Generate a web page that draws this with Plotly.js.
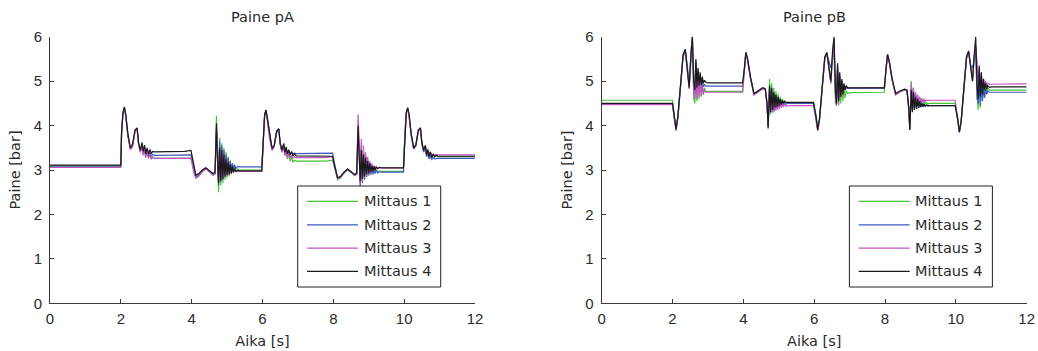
<!DOCTYPE html>
<html>
<head>
<meta charset="utf-8">
<script src="https://cdn.plot.ly/plotly-3.0.1.min.js"></script>
<style>html,body{margin:0;padding:0;background:#fff;}#chart{width:1038px;height:351px;}</style>
</head>
<body>
<div id="chart"></div>
<script>
// ---------- DATA ----------
const seriesNames = ['Mittaus 1', 'Mittaus 2', 'Mittaus 3', 'Mittaus 4'];
const chartTitles = ['Paine pA', 'Paine pB'];
const xTitle = 'Aika [s]';
const yTitle = 'Paine [bar]';
const xTicks = [0, 2, 4, 6, 8, 10, 12];
const yTicks = [0, 1, 2, 3, 4, 5, 6];

// time [s], pressure pA
const tA = [
  0, 2.0,
  2.02, 2.06, 2.1, 2.14, 2.2, 2.27, 2.33, 2.4, 2.46, 2.5, 2.55, 2.6, 2.63, 2.67, 2.7, 2.74, 2.78, 2.82, 2.86, 2.9, 2.95,
  3.8, 3.98,
  4.02, 4.07, 4.12, 4.2, 4.3, 4.4, 4.5, 4.6, 4.66,
  4.7, 4.73, 4.76, 4.79, 4.82, 4.85, 4.88, 4.91, 4.94, 4.97, 5.0, 5.03, 5.06, 5.09, 5.12, 5.15, 5.18, 5.21, 5.25, 5.3, 5.35,
  5.98,
  6.02, 6.06, 6.1, 6.14, 6.2, 6.27, 6.33, 6.4, 6.46, 6.5, 6.55, 6.6, 6.63, 6.67, 6.7, 6.74, 6.78, 6.82, 6.86, 6.9, 6.95,
  7.8, 7.98,
  8.02, 8.07, 8.12, 8.2, 8.3, 8.4, 8.5, 8.6, 8.66,
  8.7, 8.73, 8.76, 8.79, 8.82, 8.85, 8.88, 8.91, 8.94, 8.97, 9.0, 9.03, 9.06, 9.09, 9.12, 9.15, 9.18, 9.21, 9.25, 9.3, 9.35,
  9.98,
  10.02, 10.06, 10.1, 10.14, 10.2, 10.27, 10.33, 10.4, 10.46, 10.5, 10.55, 10.6, 10.63, 10.67, 10.7, 10.74, 10.78, 10.82, 10.86, 10.9, 10.95,
  12
];
const pA_m1 = [
  3.08, 3.08,
  3.8, 4.28, 4.4, 4.22, 3.78, 3.48, 3.55, 3.88, 3.93, 3.6, 3.42, 3.58, 3.38, 3.5, 3.3, 3.45, 3.28, 3.38, 3.25, 3.3, 3.26,
  3.27, 3.27,
  3.15, 2.95, 2.85, 2.9, 2.98, 3.03, 2.97, 2.9, 2.93,
  4.22, 3.3, 2.5, 3.72, 2.65, 3.6, 2.7, 3.5, 2.78, 3.4, 2.82, 3.3, 2.86, 3.22, 2.9, 3.15, 2.93, 3.08, 2.97, 3.02, 3.0,
  3.0,
  3.78, 4.22, 4.33, 4.12, 3.72, 3.45, 3.53, 3.85, 3.92, 3.58, 3.42, 3.55, 3.33, 3.45, 3.25, 3.35, 3.2, 3.3, 3.18, 3.22, 3.2,
  3.2, 3.22,
  3.1, 2.9, 2.78, 2.82, 2.93, 3.0, 2.95, 2.88, 2.9,
  3.7, 3.4, 2.7, 3.55, 2.75, 3.45, 2.8, 3.35, 2.85, 3.25, 2.88, 3.15, 2.9, 3.08, 2.92, 3.02, 2.94, 3.0, 2.96, 2.98, 2.97,
  2.97,
  3.8, 4.28, 4.38, 4.22, 3.78, 3.48, 3.55, 3.88, 3.93, 3.6, 3.42, 3.55, 3.35, 3.48, 3.3, 3.42, 3.28, 3.35, 3.3, 3.32, 3.3,
  3.3
];
const pA_m2 = [
  3.09, 3.09,
  3.82, 4.28, 4.4, 4.23, 3.78, 3.48, 3.55, 3.88, 3.94, 3.6, 3.4, 3.58, 3.36, 3.52, 3.32, 3.45, 3.3, 3.4, 3.31, 3.35, 3.33,
  3.33, 3.34,
  3.2, 2.98, 2.82, 2.88, 2.98, 3.04, 2.98, 2.9, 2.92,
  3.9, 3.45, 2.65, 3.65, 2.75, 3.55, 2.78, 3.45, 2.85, 3.35, 2.9, 3.28, 2.95, 3.2, 2.98, 3.15, 3.0, 3.12, 3.03, 3.08, 3.07,
  3.07,
  3.8, 4.25, 4.35, 4.13, 3.74, 3.47, 3.55, 3.87, 3.92, 3.6, 3.43, 3.58, 3.37, 3.5, 3.36, 3.43, 3.36, 3.4, 3.37, 3.38, 3.37,
  3.38, 3.38,
  3.2, 2.98, 2.82, 2.84, 2.94, 3.01, 2.96, 2.89, 2.9,
  3.8, 3.5, 2.55, 3.5, 2.7, 3.4, 2.78, 3.3, 2.85, 3.22, 2.88, 3.15, 2.9, 3.08, 2.9, 3.04, 2.92, 3.0, 2.93, 2.96, 2.95,
  2.95,
  3.82, 4.28, 4.38, 4.2, 3.78, 3.47, 3.55, 3.88, 3.92, 3.58, 3.4, 3.5, 3.3, 3.38, 3.25, 3.32, 3.24, 3.28, 3.25, 3.26, 3.26,
  3.26
];
const pA_m3 = [
  3.06, 3.06,
  3.78, 4.25, 4.38, 4.2, 3.75, 3.46, 3.52, 3.85, 3.92, 3.58, 3.4, 3.55, 3.33, 3.48, 3.28, 3.42, 3.26, 3.35, 3.25, 3.28, 3.26,
  3.26, 3.26,
  3.1, 2.92, 2.82, 2.86, 2.96, 3.02, 2.96, 2.88, 2.9,
  3.95, 3.3, 2.75, 3.5, 2.78, 3.42, 2.82, 3.35, 2.86, 3.25, 2.88, 3.18, 2.9, 3.1, 2.92, 3.05, 2.94, 3.02, 2.96, 2.98, 2.97,
  2.97,
  3.75, 4.2, 4.32, 4.1, 3.7, 3.44, 3.52, 3.84, 3.9, 3.56, 3.4, 3.56, 3.32, 3.47, 3.28, 3.38, 3.27, 3.33, 3.27, 3.3, 3.28,
  3.28, 3.3,
  3.12, 2.93, 2.8, 2.84, 2.94, 3.02, 2.96, 2.88, 2.92,
  4.25, 3.6, 2.7, 3.7, 2.75, 3.55, 2.82, 3.4, 2.86, 3.3, 2.9, 3.2, 2.95, 3.15, 2.98, 3.1, 3.0, 3.08, 3.03, 3.06, 3.05,
  3.05,
  3.8, 4.28, 4.4, 4.22, 3.78, 3.48, 3.56, 3.9, 3.95, 3.62, 3.45, 3.55, 3.36, 3.46, 3.33, 3.4, 3.32, 3.36, 3.33, 3.35, 3.34,
  3.34
];
const pA_m4 = [
  3.11, 3.11,
  3.85, 4.3, 4.42, 4.25, 3.8, 3.5, 3.58, 3.9, 3.95, 3.62, 3.45, 3.62, 3.42, 3.56, 3.36, 3.5, 3.36, 3.46, 3.37, 3.42, 3.41,
  3.42, 3.44,
  3.3, 3.05, 2.88, 2.92, 3.0, 3.05, 2.98, 2.92, 2.95,
  4.05, 3.2, 2.7, 3.5, 2.75, 3.45, 2.8, 3.35, 2.85, 3.25, 2.88, 3.18, 2.9, 3.12, 2.93, 3.08, 2.95, 3.03, 2.97, 2.99, 2.98,
  2.98,
  3.8, 4.25, 4.35, 4.15, 3.75, 3.48, 3.56, 3.88, 3.93, 3.6, 3.45, 3.6, 3.4, 3.52, 3.36, 3.46, 3.33, 3.42, 3.32, 3.36, 3.32,
  3.3, 3.31,
  3.15, 2.95, 2.83, 2.85, 2.95, 3.02, 2.97, 2.9, 2.93,
  4.0, 3.3, 2.75, 3.45, 2.8, 3.35, 2.85, 3.28, 2.9, 3.2, 2.93, 3.15, 2.96, 3.1, 2.98, 3.08, 3.0, 3.07, 3.03, 3.06, 3.05,
  3.05,
  3.85, 4.3, 4.4, 4.25, 3.8, 3.5, 3.56, 3.9, 3.95, 3.62, 3.45, 3.55, 3.35, 3.45, 3.3, 3.4, 3.28, 3.36, 3.3, 3.33, 3.31,
  3.31
];

// time [s], pressure pB
const tB = [
  0, 2.0,
  2.05, 2.1, 2.15, 2.22, 2.3, 2.36, 2.42, 2.47, 2.52, 2.56, 2.6, 2.63, 2.66, 2.69, 2.72, 2.75, 2.78, 2.81, 2.84, 2.87, 2.9, 2.95, 3.0,
  3.98,
  4.03, 4.07, 4.12, 4.2, 4.3, 4.42, 4.55, 4.62, 4.67, 4.7,
  4.74, 4.77, 4.8, 4.83, 4.86, 4.89, 4.92, 4.95, 4.98, 5.01, 5.04, 5.07, 5.1, 5.13, 5.16, 5.2, 5.25, 5.3,
  5.98,
  6.05, 6.1, 6.15, 6.22, 6.3, 6.36, 6.42, 6.47, 6.52, 6.56, 6.6, 6.63, 6.66, 6.69, 6.72, 6.75, 6.78, 6.81, 6.84, 6.87, 6.9, 6.95, 7.0,
  7.98,
  8.03, 8.07, 8.12, 8.2, 8.3, 8.42, 8.55, 8.62, 8.67, 8.7,
  8.74, 8.77, 8.8, 8.83, 8.86, 8.89, 8.92, 8.95, 8.98, 9.01, 9.04, 9.07, 9.1, 9.13, 9.16, 9.2, 9.25, 9.3,
  9.98,
  10.05, 10.1, 10.15, 10.22, 10.3, 10.36, 10.42, 10.47, 10.52, 10.56, 10.6, 10.63, 10.66, 10.69, 10.72, 10.75, 10.78, 10.81, 10.84, 10.87, 10.9, 10.95, 11.0,
  12
];
const pB_m1 = [
  4.57, 4.57,
  4.25, 3.95, 4.22, 4.92, 5.6, 5.7, 5.35, 4.9, 5.5, 5.85, 4.6, 4.5, 5.4, 4.55, 5.2, 4.6, 5.05, 4.65, 4.9, 4.7, 4.85, 4.75, 4.77,
  4.77,
  5.3, 5.63, 5.48, 5.08, 4.7, 4.76, 4.84, 4.82, 4.45, 3.92,
  5.05, 4.25, 4.95, 4.3, 4.85, 4.35, 4.78, 4.38, 4.72, 4.42, 4.65, 4.45, 4.6, 4.47, 4.56, 4.5, 4.52, 4.51,
  4.51,
  4.25, 3.92, 4.18, 4.85, 5.55, 5.62, 5.3, 4.95, 5.55, 5.6, 4.5, 4.45, 5.3, 4.45, 5.1, 4.5, 4.95, 4.55, 4.85, 4.62, 4.78, 4.72, 4.74,
  4.75,
  5.28, 5.58, 5.43, 5.03, 4.7, 4.76, 4.8, 4.78, 4.35, 3.9,
  5.0, 4.35, 4.85, 4.38, 4.75, 4.4, 4.68, 4.42, 4.62, 4.44, 4.57, 4.46, 4.54, 4.48, 4.52, 4.49, 4.5, 4.5,
  4.5,
  4.2, 3.88, 4.12, 4.85, 5.55, 5.65, 5.3, 5.0, 5.55, 5.75, 4.7, 4.35, 5.2, 4.4, 5.05, 4.55, 4.95, 4.65, 4.88, 4.75, 4.85, 4.8, 4.8,
  4.8
];
const pB_m2 = [
  4.48, 4.48,
  4.18, 3.9, 4.18, 4.88, 5.58, 5.7, 5.3, 4.88, 5.65, 6.0, 4.9, 4.7, 5.45, 4.75, 5.25, 4.8, 5.1, 4.85, 5.0, 4.87, 4.92, 4.89, 4.89,
  4.89,
  5.28, 5.64, 5.48, 5.08, 4.7, 4.77, 4.85, 4.82, 4.48, 3.98,
  4.85, 4.35, 4.8, 4.3, 4.72, 4.35, 4.68, 4.38, 4.62, 4.4, 4.58, 4.44, 4.55, 4.46, 4.52, 4.48, 4.5, 4.5,
  4.5,
  4.2, 3.9, 4.15, 4.83, 5.52, 5.6, 5.4, 5.3, 5.5, 5.95, 4.7, 4.55, 5.35, 4.6, 5.15, 4.68, 5.0, 4.75, 4.9, 4.8, 4.85, 4.83, 4.84,
  4.84,
  5.28, 5.6, 5.44, 5.04, 4.71, 4.77, 4.81, 4.79, 4.42, 3.95,
  4.85, 4.4, 4.8, 4.35, 4.7, 4.38, 4.6, 4.4, 4.55, 4.41, 4.5, 4.42, 4.48, 4.43, 4.46, 4.44, 4.45, 4.45,
  4.45,
  4.15, 3.85, 4.1, 4.82, 5.5, 5.65, 5.35, 5.3, 5.5, 5.75, 4.6, 4.5, 5.2, 4.45, 5.0, 4.55, 4.9, 4.62, 4.82, 4.7, 4.78, 4.75, 4.75,
  4.75
];
const pB_m3 = [
  4.47, 4.47,
  4.15, 3.88, 4.15, 4.85, 5.55, 5.68, 5.28, 4.82, 5.55, 5.9, 4.7, 4.6, 5.3, 4.6, 5.15, 4.65, 5.0, 4.68, 4.9, 4.7, 4.8, 4.75, 4.75,
  4.75,
  5.25, 5.62, 5.46, 5.06, 4.69, 4.75, 4.83, 4.8, 4.42, 4.0,
  4.8, 4.3, 4.75, 4.3, 4.68, 4.32, 4.62, 4.35, 4.57, 4.37, 4.53, 4.4, 4.5, 4.42, 4.48, 4.44, 4.45, 4.45,
  4.45,
  4.15, 3.88, 4.12, 4.82, 5.5, 5.62, 5.25, 4.95, 5.6, 5.85, 4.75, 4.45, 5.3, 4.5, 5.1, 4.62, 5.0, 4.72, 4.92, 4.8, 4.87, 4.85, 4.85,
  4.86,
  5.25, 5.58, 5.42, 5.02, 4.69, 4.76, 4.8, 4.78, 4.38, 3.92,
  4.95, 4.45, 4.85, 4.42, 4.75, 4.45, 4.7, 4.48, 4.65, 4.5, 4.62, 4.52, 4.6, 4.54, 4.58, 4.56, 4.57, 4.57,
  4.57,
  4.12, 3.85, 4.08, 4.8, 5.5, 5.65, 5.3, 5.05, 5.6, 5.8, 5.4, 4.7, 5.3, 4.8, 5.15, 4.85, 5.05, 4.88, 5.0, 4.9, 4.95, 4.93, 4.93,
  4.94
];
const pB_m4 = [
  4.5, 4.5,
  4.2, 3.92, 4.2, 4.9, 5.6, 5.72, 5.3, 4.85, 5.6, 6.0, 5.0, 4.8, 5.5, 4.85, 5.3, 4.9, 5.2, 4.92, 5.1, 4.95, 5.02, 4.97, 4.96,
  4.96,
  5.3, 5.65, 5.5, 5.1, 4.72, 4.78, 4.85, 4.82, 4.5, 3.95,
  4.9, 4.3, 4.85, 4.35, 4.75, 4.4, 4.7, 4.42, 4.65, 4.45, 4.6, 4.47, 4.57, 4.5, 4.55, 4.52, 4.52, 4.52,
  4.52,
  4.2, 3.9, 4.15, 4.85, 5.55, 5.65, 5.3, 5.0, 5.7, 6.0, 4.8, 4.5, 5.4, 4.55, 5.2, 4.65, 5.05, 4.7, 4.95, 4.8, 4.9, 4.85, 4.85,
  4.85,
  5.3, 5.6, 5.45, 5.05, 4.72, 4.78, 4.82, 4.8, 4.4, 3.9,
  4.8, 4.3, 4.75, 4.35, 4.65, 4.38, 4.6, 4.4, 4.55, 4.42, 4.5, 4.43, 4.48, 4.44, 4.46, 4.45, 4.45, 4.45,
  4.45,
  4.15, 3.85, 4.1, 4.85, 5.55, 5.68, 5.3, 5.0, 5.6, 6.0, 4.9, 4.6, 5.35, 4.65, 5.2, 4.7, 5.05, 4.8, 4.95, 4.82, 4.9, 4.86, 4.87,
  4.87
];

// ---------- STYLE ----------
const colors = ['#45c435', '#3f58c0', '#c455c4', '#1a1a1a'];
const FONT = 'DejaVu Sans, sans-serif';
const TICKFONT = 'Liberation Sans, Arial, sans-serif';
const FS = 14.5;
const TXT = '#2a2a2a';
const AX = '#3a3a3a';

const seriesA = [pA_m1, pA_m2, pA_m3, pA_m4];
const seriesB = [pB_m1, pB_m2, pB_m3, pB_m4];

const traces = [];
seriesA.forEach((ys, i) => traces.push({
  x: tA, y: ys, type: 'scatter', mode: 'lines', name: seriesNames[i],
  line: {color: colors[i], width: 1.2}, xaxis: 'x', yaxis: 'y', showlegend: false, hoverinfo: 'skip'
}));
seriesB.forEach((ys, i) => traces.push({
  x: tB, y: ys, type: 'scatter', mode: 'lines', name: seriesNames[i],
  line: {color: colors[i], width: 1.2}, xaxis: 'x2', yaxis: 'y2', showlegend: false, hoverinfo: 'skip'
}));

function xax(domain, anchor) {
  return {
    domain: domain, anchor: anchor, range: [0, 12], tickvals: xTicks, ticktext: xTicks.map(String),
    ticks: 'inside', ticklen: 4, tickwidth: 1, tickcolor: AX,
    showline: true, linecolor: AX, linewidth: 1, mirror: false,
    showgrid: false, zeroline: false, fixedrange: true,
    tickfont: {family: TICKFONT, size: 15, color: TXT},
    ticklabelstandoff: 2,
    title: {text: xTitle, font: {family: FONT, size: FS, color: TXT}, standoff: 9}
  };
}
function yax(domain, anchor) {
  return {
    domain: domain, anchor: anchor, range: [0, 6], tickvals: yTicks, ticktext: yTicks.map(String),
    ticks: 'inside', ticklen: 4, tickwidth: 1, tickcolor: AX,
    showline: true, linecolor: AX, linewidth: 1, mirror: false,
    showgrid: false, zeroline: false, fixedrange: true,
    tickfont: {family: TICKFONT, size: 15, color: TXT},
    ticklabelstandoff: 4,
    title: {text: yTitle, font: {family: FONT, size: FS, color: TXT}, standoff: 9}
  };
}

const yDom = [0.1359, 0.8954];
const xDom1 = [0.04817, 0.45761];
const xDom2 = [0.57967, 0.98911];

const shapes = [];
const annotations = [];
const legendRows = [0.382, 0.2945, 0.207, 0.1195];
[['x', 'y', xDom1], ['x2', 'y2', xDom2]].forEach(([xa, ya, dom], k) => {
  // plot titles
  annotations.push({
    text: chartTitles[k], xref: 'paper', yref: 'paper', x: (dom[0] + dom[1]) / 2, y: 1 - 17 / 351,
    xanchor: 'center', yanchor: 'middle', showarrow: false, font: {family: FONT, size: FS, color: TXT}
  });
  // legend box
  shapes.push({
    type: 'rect', xref: xa + ' domain', yref: ya + ' domain', x0: 0.5828, x1: 0.9193, y0: 0.0611, y1: 0.44,
    line: {color: '#222', width: 1}, fillcolor: '#ffffff', layer: 'above'
  });
  seriesNames.forEach((nm, i) => {
    shapes.push({
      type: 'line', xref: xa + ' domain', yref: ya + ' domain', x0: 0.6047, x1: 0.7247,
      y0: legendRows[i], y1: legendRows[i], line: {color: colors[i], width: 1.2}, layer: 'above'
    });
    annotations.push({
      text: nm, xref: xa + ' domain', yref: ya + ' domain', x: 0.7335, y: legendRows[i],
      xanchor: 'left', yanchor: 'middle', showarrow: false, font: {family: FONT, size: FS, color: TXT}
    });
  });
});

const layout = {
  width: 1038, height: 351,
  margin: {l: 0, r: 0, t: 0, b: 0},
  paper_bgcolor: '#ffffff', plot_bgcolor: '#ffffff',
  font: {family: FONT, size: FS, color: TXT},
  showlegend: false,
  xaxis: xax(xDom1, 'y'), yaxis: yax(yDom, 'x'),
  xaxis2: xax(xDom2, 'y2'), yaxis2: yax(yDom, 'x2'),
  shapes: shapes, annotations: annotations
};

Plotly.newPlot('chart', traces, layout, {displayModeBar: false, staticPlot: true});
</script>
</body>
</html>
